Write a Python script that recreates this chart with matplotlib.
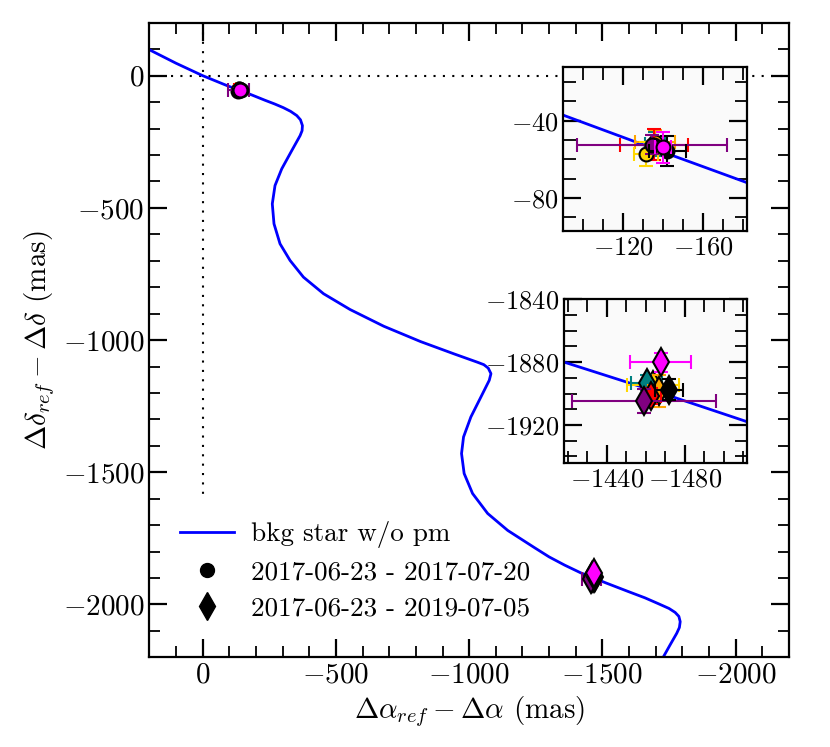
import numpy as np
import matplotlib
matplotlib.use("Agg")
import matplotlib.pyplot as plt
from matplotlib.ticker import MultipleLocator

plt.rcParams['font.family'] = 'serif'
plt.rcParams['font.serif'] = ['cmr10']
plt.rcParams['mathtext.fontset'] = 'cm'
plt.rcParams['axes.formatter.use_mathtext'] = True

# background star track (no proper motion)
bkg_ra = [200, 100, 0, -91, -139.5, -182, -233.7, -270, -302.7, -330, -353.2,
          -367, -374.3, -373, -365.6, -334.3, -296.6, -271.4, -261.2, -267.6,
          -290.2, -327.9, -378.1, -453.5, -553.2, -679.6, -817.9, -943.5,
          -1031.7, -1055, -1071.6, -1081.8, -1075.4, -1044.1, -1006.4, -978.9,
          -971.4, -981.2, -1012.8, -1069.4, -1144.8, -1245, -1300, -1358,
          -1418, -1471, -1512, -1597, -1660, -1710, -1750, -1773, -1787,
          -1792, -1789, -1779, -1754, -1729]
bkg_dec = [98, 47, 0, -37.5, -56, -72, -93, -107, -121, -135, -151,
           -167, -188.9, -208, -226.7, -283.3, -352.5, -415.6, -484.7, -560.3,
           -635.8, -698.9, -762, -824.7, -884.5, -947.7, -1005.8, -1052.3,
           -1084, -1093, -1106, -1127, -1152.3, -1215.3, -1290.9, -1366.5,
           -1429.2, -1504.7, -1580.3, -1655.8, -1720, -1785, -1820, -1851,
           -1880, -1901, -1918, -1951, -1975, -1997, -2015, -2030, -2045,
           -2065, -2087, -2109, -2153, -2198]

colors = ['gold', 'teal', 'orange', 'red', 'purple', 'black', 'magenta']
# stacking order of the markers in each epoch (higher = on top)
ep1_order = [4, 1, 2, 3, 5, 6, 7]
ep2_order = [1, 2, 3, 4, 5, 6, 7]

# epoch 1: 2017-06-23 - 2017-07-20
ep1_ra = [-131.2, -136.0, -135.8, -135.5, -134.5, -142.2, -140.0]
ep1_dec = [-57.2, -52.0, -51.0, -52.5, -52.4, -55.5, -53.6]
ep1_raerr = [6.0, 5.0, 10.0, 17.2, 37.7, 9.5, 4.0]
ep1_decerr = [6.0, 6.0, 6.0, 8.0, 5.0, 7.8, 8.0]

# epoch 2: 2017-06-23 - 2019-07-05
ep2_ra = [-1463.5, -1460.4, -1466.9, -1462.8, -1459.0, -1472.0, -1467.6]
ep2_dec = [-1894.7, -1893.0, -1898.5, -1901.5, -1904.8, -1897.5, -1880.0]
ep2_raerr = [13.4, 8.0, 6.0, 5.0, 37.0, 7.2, 15.7]
ep2_decerr = [6.0, 5.0, 10.0, 5.0, 7.4, 6.6, 6.0]


def draw_points(ax, ms_o=10, ms_d=14):
    for i, c in enumerate(colors):
        ax.errorbar(ep1_ra[i], ep1_dec[i], xerr=ep1_raerr[i], yerr=ep1_decerr[i],
                    fmt='o', color=c, mfc=c, mec='k', mew=1.5, ms=ms_o,
                    elinewidth=1.5, capsize=5, capthick=1.5, zorder=3 + ep1_order[i])
        ax.errorbar(ep2_ra[i], ep2_dec[i], xerr=ep2_raerr[i], yerr=ep2_decerr[i],
                    fmt='d', color=c, mfc=c, mec='k', mew=1.5, ms=ms_d,
                    elinewidth=1.5, capsize=5, capthick=1.5, zorder=3 + ep2_order[i])


def style_ticks(ax, size, major_len=13, minor_len=8):
    ax.tick_params(which='both', direction='in', top=True, right=True,
                   labelsize=size)
    ax.tick_params(which='major', length=major_len, width=1.6)
    ax.tick_params(which='minor', length=minor_len, width=1.3)
    for s in ax.spines.values():
        s.set_linewidth(1.6)


fig = plt.figure(figsize=(8.3, 7.47), dpi=100)
ax = fig.add_axes([0.180, 0.120, 0.7705, 0.8495])

dots = (0, (1, 3.5))
ax.plot([0, 0], [200, -1600], color='k', lw=1.5, linestyle=dots, zorder=1)
ax.plot([120, -2200], [0, 0], color='k', lw=1.5, linestyle=dots, zorder=1)
line, = ax.plot(bkg_ra, bkg_dec, color='blue', lw=2.0, zorder=2,
                label='bkg star w/o pm')
draw_points(ax)

ax.set_xlim(200, -2200)
ax.set_ylim(-2200, 200)
ax.xaxis.set_major_locator(MultipleLocator(500))
ax.xaxis.set_minor_locator(MultipleLocator(100))
ax.yaxis.set_major_locator(MultipleLocator(500))
ax.yaxis.set_minor_locator(MultipleLocator(100))
style_ticks(ax, 21)
ax.set_xlabel(r'$\Delta\alpha_{ref} - \Delta\alpha$ (mas)', fontsize=21)
ax.set_ylabel(r'$\Delta\delta_{ref} - \Delta\delta$ (mas)', fontsize=21)

h_o = plt.Line2D([], [], marker='o', color='k', ls='none', ms=10)
h_d = plt.Line2D([], [], marker='d', color='k', ls='none', ms=14)
ax.legend([line, h_o, h_d],
          ['bkg star w/o pm', '2017-06-23 - 2017-07-20', '2017-06-23 - 2019-07-05'],
          loc='lower left', bbox_to_anchor=(0.01, 0.02), frameon=False,
          fontsize=19.5, labelspacing=0.45, handletextpad=0.6)

# inset: first epoch
ax1 = fig.add_axes([0.6787, 0.6908, 0.2212, 0.2200], facecolor='#fafafa')
ax1.plot(bkg_ra, bkg_dec, color='blue', lw=2.0, zorder=2)
draw_points(ax1)
ax1.set_xlim(-90, -182)
ax1.set_ylim(-97, -12)
ax1.xaxis.set_major_locator(MultipleLocator(40))
ax1.xaxis.set_minor_locator(MultipleLocator(10))
ax1.yaxis.set_major_locator(MultipleLocator(40))
ax1.yaxis.set_minor_locator(MultipleLocator(10))
style_ticks(ax1, 19, major_len=13, minor_len=9)

# inset: second epoch
ax2 = fig.add_axes([0.6795, 0.3806, 0.2209, 0.2191], facecolor='#fafafa')
ax2.plot(bkg_ra, bkg_dec, color='blue', lw=2.0, zorder=2)
draw_points(ax2)
ax2.set_xlim(-1418, -1512)
ax2.set_ylim(-1944, -1839.9)
ax2.xaxis.set_major_locator(MultipleLocator(40))
ax2.xaxis.set_minor_locator(MultipleLocator(10))
ax2.yaxis.set_major_locator(MultipleLocator(40))
ax2.yaxis.set_minor_locator(MultipleLocator(10))
style_ticks(ax2, 19, major_len=13, minor_len=9)

fig.savefig('out.png', dpi=100)
